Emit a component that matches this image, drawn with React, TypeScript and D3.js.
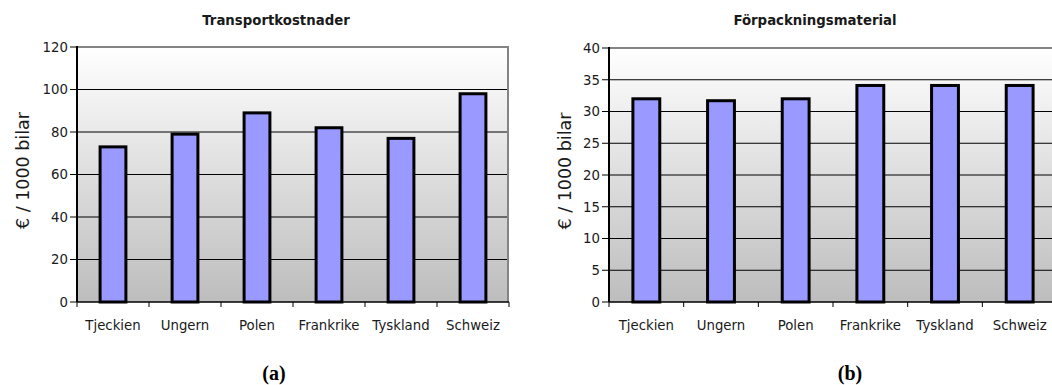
import React from "react";
import * as d3 from "d3";

// Countries shown on both panels
const countries = ["Tjeckien", "Ungern", "Polen", "Frankrike", "Tyskland", "Schweiz"];

// Transport costs (€ per 1000 cars)
const transportValues = [73, 79, 89, 82, 77, 98];
const transportTicks = [0, 20, 40, 60, 80, 100, 120];

// Packaging material costs (€ per 1000 cars)
const packagingValues = [32, 31.7, 32, 34.1, 34.1, 34.1];
const packagingTicks = [0, 5, 10, 15, 20, 25, 30, 35, 40];

const yAxisTitle = "€ / 1000 bilar";
const FONT = "'DejaVu Sans', Verdana, sans-serif";

type PanelProps = {
  id: string;
  title: string;
  titleX: number;
  values: number[];
  ticks: number[];
  left: number;
  right: number;
  top: number;
  bottom: number;
  yTitleX: number;
  caption: string;
  captionX: number;
};

function Panel(p: PanelProps) {
  const x = d3
    .scaleBand<string>()
    .domain(countries)
    .range([p.left, p.right])
    .paddingInner(0.6)
    .paddingOuter(0.3);
  const step = (p.right - p.left) / countries.length;
  const maxTick = p.ticks[p.ticks.length - 1];
  const y = d3.scaleLinear().domain([0, maxTick]).range([p.bottom, p.top]);
  const bw = x.bandwidth();
  const sw = 3;

  return (
    <g>
      <defs>
        <linearGradient id={p.id} x1="0" y1="0" x2="0" y2="1">
          <stop offset="0" stopColor="#ffffff" />
          <stop offset="1" stopColor="#bdbdbd" />
        </linearGradient>
      </defs>
      <text
        x={p.titleX}
        y={25}
        textAnchor="middle"
        fontFamily={FONT}
        fontWeight="bold"
        fontSize={13.3}
        fill="#1a1a1a"
      >
        {p.title}
      </text>

      {/* plot background */}
      <rect x={p.left} y={p.top} width={p.right - p.left} height={p.bottom - p.top} fill={`url(#${p.id})`} />

      {/* horizontal grid lines */}
      {p.ticks
        .filter((t) => t > 0 && t < maxTick)
        .map((t) => (
          <line key={t} x1={p.left} x2={p.right} y1={y(t)} y2={y(t)} stroke="#000" strokeWidth={1} />
        ))}

      {/* gray frame on top and right */}
      <line x1={p.left} x2={p.right} y1={y(maxTick)} y2={y(maxTick)} stroke="#848484" strokeWidth={2} />
      <line x1={p.right - 1} x2={p.right - 1} y1={p.top} y2={p.bottom} stroke="#848484" strokeWidth={2} />

      {/* bars */}
      {countries.map((c, i) => (
        <rect
          key={c}
          x={(x(c) as number) + sw / 2}
          y={y(p.values[i])}
          width={bw - sw}
          height={p.bottom - y(p.values[i])}
          fill="#9999ff"
          stroke="#000"
          strokeWidth={sw}
        />
      ))}

      {/* y axis */}
      <line x1={p.left} x2={p.left} y1={p.top - 1} y2={p.bottom} stroke="#000" strokeWidth={2} />
      {p.ticks.map((t) => (
        <g key={t}>
          <line x1={p.left - 7} x2={p.left} y1={y(t)} y2={y(t)} stroke="#000" strokeWidth={1} />
          <text
            x={p.left - 9}
            y={y(t)}
            dy="0.36em"
            textAnchor="end"
            fontFamily={FONT}
            fontSize={13.3}
            fill="#1a1a1a"
          >
            {t}
          </text>
        </g>
      ))}

      {/* x axis */}
      <line x1={p.left} x2={p.right} y1={p.bottom} y2={p.bottom} stroke="#000" strokeWidth={1.5} />
      {d3.range(countries.length + 1).map((i) => (
        <line
          key={i}
          x1={p.left + i * step}
          x2={p.left + i * step}
          y1={p.bottom}
          y2={p.bottom + 5}
          stroke="#000"
          strokeWidth={1}
        />
      ))}
      {countries.map((c) => (
        <text
          key={c}
          x={(x(c) as number) + bw / 2}
          y={330}
          textAnchor="middle"
          fontFamily={FONT}
          fontSize={13.3}
          fill="#1a1a1a"
        >
          {c}
        </text>
      ))}

      {/* y axis title */}
      <text
        transform={`translate(${p.yTitleX},${(p.top + p.bottom) / 2 - 4}) rotate(-90)`}
        textAnchor="middle"
        fontFamily={FONT}
        fontSize={17.5}
        fill="#1a1a1a"
      >
        {yAxisTitle}
      </text>

      {/* panel caption */}
      <text
        x={p.captionX}
        y={380}
        textAnchor="middle"
        fontFamily="'Liberation Serif', 'Times New Roman', serif"
        fontWeight="bold"
        fontSize={20}
        fill="#000"
      >
        {p.caption}
      </text>
    </g>
  );
}

export default function App() {
  return (
    <svg
      width={1052}
      height={385}
      viewBox="0 0 1052 385"
      style={{ position: "absolute", left: 0, top: 0, display: "block", background: "#fff" }}
    >
      <rect x={0} y={0} width={1052} height={385} fill="#fff" />
      <Panel
        id="gradA"
        title="Transportkostnader"
        titleX={276}
        values={transportValues}
        ticks={transportTicks}
        left={77}
        right={509}
        top={47}
        bottom={302}
        yTitleX={29}
        caption="(a)"
        captionX={274}
      />
      <Panel
        id="gradB"
        title="Förpackningsmaterial"
        titleX={815}
        values={packagingValues}
        ticks={packagingTicks}
        left={609}
        right={1057}
        top={48}
        bottom={302}
        yTitleX={571}
        caption="(b)"
        captionX={850}
      />
    </svg>
  );
}
